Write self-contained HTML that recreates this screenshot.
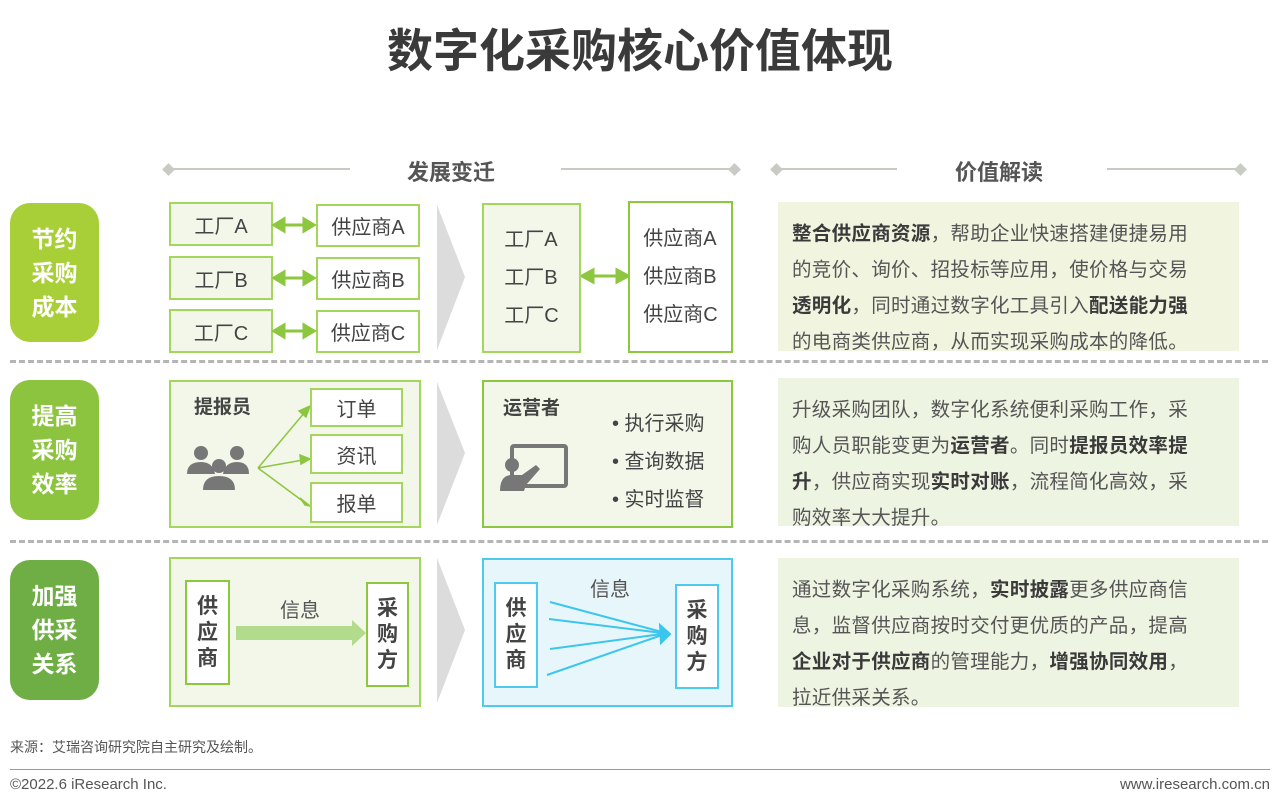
<!DOCTYPE html>
<html><head><meta charset="utf-8"><style>
*{margin:0;padding:0;box-sizing:border-box}
body{width:1280px;height:804px;background:#fff;position:relative;overflow:hidden;font-family:"Liberation Sans","Noto Sans CJK SC",sans-serif;color:#444}
.a{position:absolute}
.lbl{position:absolute;left:10px;width:89px;border-radius:20px;color:#fff;font-weight:bold;font-size:23px;line-height:34px;text-align:center;display:flex;align-items:center;justify-content:center}
.bx{position:absolute;border:2px solid #a3d65a;background:#f2f7ea;font-size:20px;color:#444;display:flex;align-items:center;justify-content:center}
.wb{background:#fff}
.pn{position:absolute;left:778px;width:461px;padding:14px 0 0 14px;font-size:19.5px;line-height:36px;color:#555;letter-spacing:0.3px}
.pn b{color:#3a3a3a}
.dash{position:absolute;left:10px;width:1258px;height:0;border-top:3px dashed #b5b5b5}
.hline{position:absolute;height:2px;background:#c8cac4;top:168px}
.dia{position:absolute;width:9px;height:9px;background:#c8cac4;transform:rotate(45deg);top:165px}
.hd{position:absolute;top:155px;font-size:22px;font-weight:bold;color:#555}
.vt{position:absolute;background:#fff;font-weight:bold;font-size:21px;line-height:26px;text-align:center;display:flex;align-items:center;justify-content:center}
</style></head><body>
<div class="a" style="left:0;width:1280px;top:15px;text-align:center;font-size:46px;font-weight:bold;color:#3a3a3a">数字化采购核心价值体现</div>

<div class="hline" style="left:167px;width:183px"></div><div class="dia" style="left:164px"></div>
<div class="hd" style="left:407px">发展变迁</div>
<div class="hline" style="left:561px;width:174px"></div><div class="dia" style="left:730px"></div>
<div class="hline" style="left:775px;width:122px"></div><div class="dia" style="left:772px"></div>
<div class="hd" style="left:955px">价值解读</div>
<div class="hline" style="left:1107px;width:134px"></div><div class="dia" style="left:1236px"></div>

<!-- Row 1 -->
<div class="lbl" style="top:203px;height:139px;background:#a9cf38">节约<br>采购<br>成本</div>
<div class="bx" style="left:169px;top:202px;width:104px;height:44px">工厂A</div>
<div class="bx wb" style="left:316px;top:204px;width:104px;height:43px">供应商A</div>
<div class="bx" style="left:169px;top:256px;width:104px;height:44px">工厂B</div>
<div class="bx wb" style="left:316px;top:257px;width:104px;height:43px">供应商B</div>
<div class="bx" style="left:169px;top:309px;width:104px;height:44px">工厂C</div>
<div class="bx wb" style="left:316px;top:310px;width:104px;height:43px">供应商C</div>
<svg class="a" style="left:0;top:0" width="1280" height="804">
<g stroke="#8dc63f" stroke-width="3" fill="#8dc63f">
<line x1="282" y1="225" x2="306" y2="225"/><polygon points="274,225 284,219 284,231"/><polygon points="314,225 304,219 304,231"/>
<line x1="282" y1="278" x2="306" y2="278"/><polygon points="274,278 284,272 284,284"/><polygon points="314,278 304,272 304,284"/>
<line x1="282" y1="331" x2="306" y2="331"/><polygon points="274,331 284,325 284,337"/><polygon points="314,331 304,325 304,337"/>
<line x1="592" y1="276" x2="618" y2="276"/><polygon points="582,276 593,270 593,282"/><polygon points="628,276 617,270 617,282"/>
</g>
<g fill="#dcdcdc">
<polygon points="437,205 465,277 437,350"/>
<polygon points="437,382 465,453 437,525"/>
<polygon points="437,558 465,630 437,703"/>
</g>
</svg>
<div class="bx" style="left:482px;top:203px;width:99px;height:150px;flex-direction:column;line-height:38px">工厂A<br>工厂B<br>工厂C</div>
<div class="bx wb" style="left:628px;top:201px;width:105px;height:152px;flex-direction:column;line-height:38px;border-color:#8dc63f">供应商A<br>供应商B<br>供应商C</div>
<div class="pn" style="top:202px;height:149px;background:#f1f5e0"><b>整合供应商资源</b>，帮助企业快速搭建便捷易用<br>的竞价、询价、招投标等应用，使价格与交易<br><b>透明化</b>，同时通过数字化工具引入<b>配送能力强</b><br>的电商类供应商，从而实现采购成本的降低。</div>

<div class="dash" style="top:360px"></div>

<!-- Row 2 -->
<div class="lbl" style="top:380px;height:140px;background:#8cc43f">提高<br>采购<br>效率</div>
<div class="bx" style="left:169px;top:380px;width:252px;height:148px"></div>
<div class="a" style="left:194px;top:392px;font-size:19px;font-weight:bold;color:#444">提报员</div>
<svg class="a" style="left:185px;top:440px" width="70" height="50"><g fill="#777"><circle cx="16" cy="13" r="7"/><circle cx="52" cy="13" r="7"/><path d="M2 34 Q2 22 16 22 Q28 22 30 34Z"/><path d="M38 34 Q40 22 52 22 Q64 22 64 34Z"/><circle cx="34" cy="26" r="7"/><path d="M18 50 Q18 36 34 36 Q50 36 50 50Z"/></g></svg>
<svg class="a" style="left:0;top:0" width="1280" height="804"><g stroke="#8dc63f" stroke-width="1.5" fill="#8dc63f">
<line x1="258" y1="468" x2="305" y2="412"/><polygon points="310,406 299,411 306,417"/>
<line x1="258" y1="468" x2="303" y2="460"/><polygon points="310,459 300,455 301,464"/>
<line x1="258" y1="468" x2="304" y2="502"/><polygon points="310,506 300,498 305,505"/>
</g></svg>
<div class="bx wb" style="left:310px;top:388px;width:93px;height:39px">订单</div>
<div class="bx wb" style="left:310px;top:434px;width:93px;height:40px">资讯</div>
<div class="bx wb" style="left:310px;top:482px;width:93px;height:41px">报单</div>
<div class="bx" style="left:482px;top:380px;width:251px;height:148px;border-color:#8dc63f"></div>
<div class="a" style="left:503px;top:393px;font-size:19px;font-weight:bold;color:#444">运营者</div>
<svg class="a" style="left:500px;top:443px" width="70" height="48"><rect x="12" y="3" width="54" height="40" fill="none" stroke="#777" stroke-width="4" rx="2"/><circle cx="12" cy="22" r="7" fill="#777"/><path d="M0 48 Q0 32 12 32 L22 32 L36 22 L40 26 L26 42 L24 48Z" fill="#777"/></svg>
<div class="a" style="left:612px;top:405px;font-size:20px;line-height:38px;color:#444">• 执行采购<br>• 查询数据<br>• 实时监督</div>
<div class="pn" style="top:378px;height:148px;background:#eef4e2">升级采购团队，数字化系统便利采购工作，采<br>购人员职能变更为<b>运营者</b>。同时<b>提报员效率提<br>升</b>，供应商实现<b>实时对账</b>，流程简化高效，采<br>购效率大大提升。</div>

<div class="dash" style="top:540px"></div>

<!-- Row 3 -->
<div class="lbl" style="top:560px;height:140px;background:#6fae44">加强<br>供采<br>关系</div>
<div class="bx" style="left:169px;top:557px;width:252px;height:150px"></div>
<div class="vt" style="left:185px;top:580px;width:45px;height:105px;border:2px solid #8dc63f">供<br>应<br>商</div>
<div class="vt" style="left:366px;top:582px;width:43px;height:105px;border:2px solid #8dc63f">采<br>购<br>方</div>
<div class="a" style="left:280px;top:594px;font-size:20px;color:#555">信息</div>
<svg class="a" style="left:0;top:0" width="1280" height="804"><g fill="#b3db8c"><rect x="236" y="626" width="118" height="14"/><polygon points="352,620 366,633 352,646"/></g></svg>
<div class="bx" style="left:482px;top:558px;width:251px;height:149px;background:#e6f6fb;border-color:#4ccbee"></div>
<div class="vt" style="left:494px;top:582px;width:44px;height:106px;border:2px solid #4ccbee">供<br>应<br>商</div>
<div class="vt" style="left:675px;top:584px;width:44px;height:105px;border:2px solid #4ccbee">采<br>购<br>方</div>
<div class="a" style="left:590px;top:573px;font-size:20px;color:#555">信息</div>
<svg class="a" style="left:0;top:0" width="1280" height="804"><g stroke="#3cc6ee" stroke-width="2" fill="#3cc6ee">
<line x1="550" y1="602" x2="662" y2="632"/><line x1="549" y1="619" x2="662" y2="633"/><line x1="550" y1="649" x2="662" y2="634"/><line x1="547" y1="675" x2="662" y2="635"/>
<polygon points="670,634 660,625 661,643"/></g></svg>
<div class="pn" style="top:558px;height:149px;background:#eef4e2">通过数字化采购系统，<b>实时披露</b>更多供应商信<br>息，监督供应商按时交付更优质的产品，提高<br><b>企业对于供应商</b>的管理能力，<b>增强协同效用</b>，<br>拉近供采关系。</div>

<div class="a" style="left:10px;top:737px;font-size:14px;color:#555">来源：艾瑞咨询研究院自主研究及绘制。</div>
<div class="a" style="left:10px;top:769px;width:1260px;height:1px;background:#999"></div>
<div class="a" style="left:10px;top:776px;font-size:15px;color:#555">©2022.6 iResearch Inc.</div>
<div class="a" style="right:10px;top:776px;font-size:15px;color:#555">www.iresearch.com.cn</div>
</body></html>
